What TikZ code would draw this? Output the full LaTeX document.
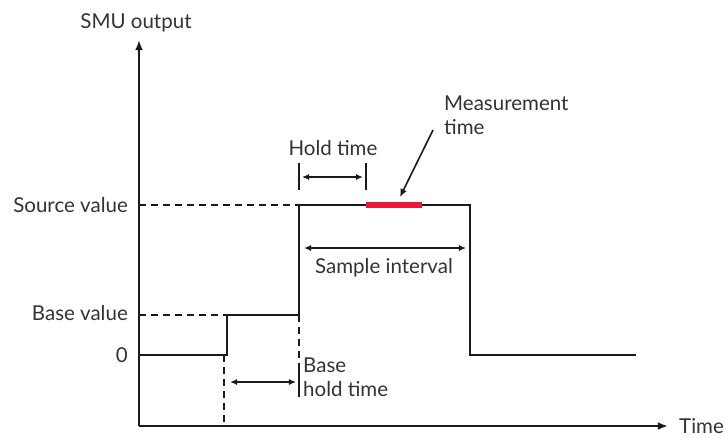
\documentclass[tikz,border=0pt]{standalone}
\usepackage{fontspec}
\setmainfont{Lato}
\usetikzlibrary{arrows.meta, positioning, calc}
\definecolor{InkGray}{HTML}{333333}
\definecolor{LineBlack}{HTML}{1A1A1A}
\definecolor{MeasRed}{HTML}{E8193C}
\tikzset{
  axis/.style={-{Latex[length=3.6mm, width=2.8mm]}, line width=2pt, draw=LineBlack},
  wave/.style={line width=1.9pt, draw=LineBlack},
  guide/.style={line width=1.9pt, dash pattern=on 7pt off 5pt, draw=LineBlack},
  span/.style={{Latex[length=2.5mm, width=2.2mm]}-{Latex[length=2.5mm, width=2.2mm]}, line width=1.8pt, draw=LineBlack},
  marker/.style={line width=1.8pt, draw=LineBlack},
  pointer/.style={-{Latex[length=2.8mm, width=2.4mm]}, line width=1.6pt, draw=LineBlack},
  meas/.style={line width=5.5pt, draw=MeasRed},
  lbl/.style={font=\fontsize{20.5}{24}\selectfont, text=InkGray, inner sep=1pt}
}
\begin{document}
\begin{tikzpicture}[x=1pt, y=-1pt]
\useasboundingbox (0,0) rectangle (728,437);
% axes
\coordinate (orig) at (139,426);
\coordinate (ytop) at (139,40);
\coordinate (xend) at (668,426);
\draw[axis] (orig) -- (ytop);
\draw[axis] (orig) -- (xend);
\node[lbl] (ylab) at (136,23) {SMU output};
\node[lbl, anchor=west] (xlab) at (678,426) {Time};
% levels
\node[lbl, anchor=east] (srcval) at (129,205) {Source value};
\node[lbl, anchor=east] (baseval) at (129,313) {Base value};
\node[lbl, anchor=east] (zero) at (129,355) {0};
\coordinate (src0) at (139,205);
\coordinate (base0) at (139,315);
% waveform
\coordinate (w0) at (139,355);
\coordinate (w1) at (227,355);
\coordinate (w2) at (227,315);
\coordinate (w3) at (299,315);
\coordinate (w4) at (299,205);
\coordinate (w5) at (470,205);
\coordinate (w6) at (470,355);
\coordinate (w7) at (636,355);
\draw[wave] (w0) -- (w1) -- (w2) -- (w3) -- (w4) -- (w5) -- (w6) -- (w7);
\draw[guide] (src0) -- (w4);
\draw[guide] (base0) -- (w2);
\coordinate (bh0) at (224,355);
\coordinate (bh1) at (224,426);
\draw[guide] (bh0) -- (bh1);
\coordinate (bh2) at (299,367);
\draw[guide] (w3) -- (bh2);
% hold time
\coordinate (ht0) at (299,163);
\coordinate (ht1) at (299,190);
\coordinate (ht2) at (366,163);
\coordinate (ht3) at (366,190);
\draw[marker] (ht0) -- (ht1);
\draw[marker] (ht2) -- (ht3);
\coordinate (hta) at (302,177);
\coordinate (htb) at (363,177);
\draw[span] (hta) -- (htb);
\node[lbl] (holdlab) at (333,148) {Hold time};
% measurement time
\coordinate (m0) at (366,205);
\coordinate (m1) at (422,205);
\draw[meas] (m0) -- (m1);
\node[lbl, anchor=west, align=left] (measlab) at (443,115) {Measurement\\time};
\coordinate (mp0) at (433,130);
\coordinate (mp1) at (400,197);
\draw[pointer] (mp0) -- (mp1);
% sample interval
\coordinate (si0) at (304,248);
\coordinate (si1) at (466,248);
\draw[span] (si0) -- (si1);
\node[lbl] (samplab) at (384,268) {Sample interval};
% base hold time
\coordinate (bt0) at (299,367);
\coordinate (bt1) at (299,397);
\draw[marker] (bt0) -- (bt1);
\coordinate (bta) at (230,382);
\coordinate (btb) at (296,382);
\draw[span] (bta) -- (btb);
\node[lbl, anchor=west, align=left] (basehold) at (302,377) {Base\\hold time};
\end{tikzpicture}
\end{document}
